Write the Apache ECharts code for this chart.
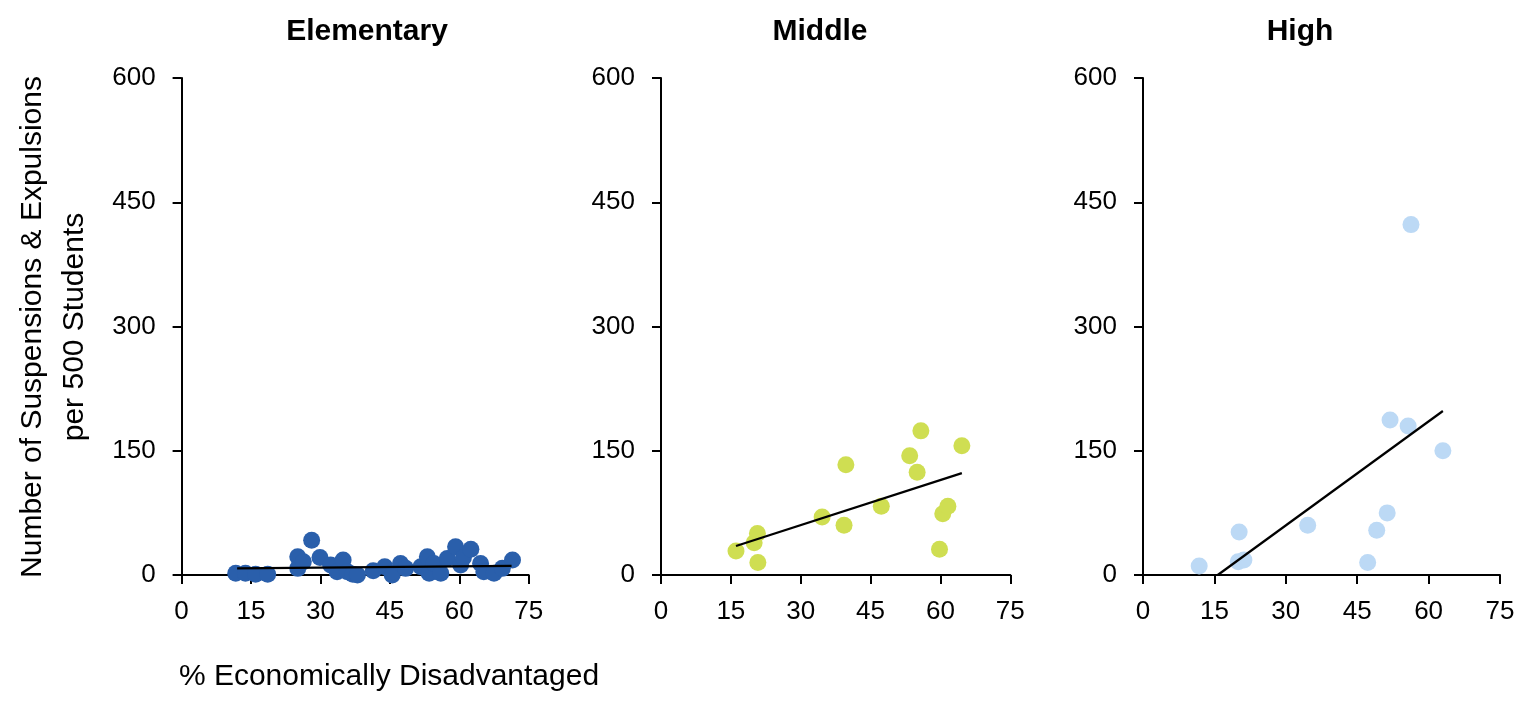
<!DOCTYPE html>
<html>
<head>
<meta charset="utf-8">
<title>Suspensions & Expulsions by Economic Disadvantage</title>
<script src="https://cdn.jsdelivr.net/npm/echarts@6/dist/echarts.min.js"></script>
<style>
  html, body { margin: 0; padding: 0; background: #ffffff; }
  #chart { width: 1524px; height: 707px; }
</style>
</head>
<body>
<div id="chart"></div>
<script>
// Panel titles and axis ticks
const panelTitles = ['Elementary', 'Middle', 'High'];
const xTicks = [0, 15, 30, 45, 60, 75];
const yTicks = [0, 150, 300, 450, 600];

// School-level points: [% economically disadvantaged, suspensions & expulsions per 500 students]
const elementaryPoints = [
  [11.7, 2], [13.8, 2], [16.0, 1], [18.6, 1],
  [25.1, 22], [25.1, 8], [26.3, 16], [28.1, 42], [29.9, 21],
  [32.2, 12], [33.6, 4], [34.9, 18], [35.8, 4], [37.0, 1], [38.0, 0],
  [41.4, 5], [43.9, 10], [45.5, 0], [47.3, 14], [48.4, 8],
  [51.7, 10], [53.1, 22], [53.5, 2], [54.5, 14], [56.0, 2], [57.4, 20],
  [59.2, 34], [60.3, 12], [60.9, 21], [62.5, 31],
  [64.6, 14], [65.3, 4], [67.5, 2], [69.3, 8], [71.5, 18]
];
const middlePoints = [
  [16.1, 29], [20.0, 39], [20.7, 50], [20.8, 15], [34.6, 70],
  [39.3, 60], [39.7, 133], [47.3, 83], [53.4, 144], [55.0, 124],
  [55.8, 174], [59.8, 31], [60.5, 74], [61.6, 83], [64.6, 156]
];
const highPoints = [
  [11.8, 11], [20.2, 52], [20.0, 16], [21.2, 18], [34.6, 60],
  [47.2, 15], [49.1, 54], [51.3, 75], [51.9, 187], [55.7, 180],
  [56.3, 423], [63.0, 150]
];

// Linear trend line end points for each panel
const elementaryTrend = [[12, 8], [71.3, 11]];
const middleTrend = [[16.1, 35], [64.6, 123]];
const highTrend = [[15.7, 0], [63.0, 198]];

const panelColors = ['#2a5fab', '#cfde52', '#bcd9f5'];
const panelPoints = [elementaryPoints, middlePoints, highPoints];
const panelTrends = [elementaryTrend, middleTrend, highTrend];

const grids = [
  { left: 181.6, top: 78, width: 347.1, height: 497 },
  { left: 661, top: 78, width: 349.3, height: 497 },
  { left: 1143, top: 78, width: 357, height: 497 }
];

const tickFont = "'Liberation Sans Narrow', 'Arial Narrow', 'Liberation Sans', Arial, sans-serif";
const textFont = "'Liberation Sans', Arial, sans-serif";

const axisLine = { show: true, onZero: false, lineStyle: { color: '#000', width: 2 } };
const axisTick = { show: true, inside: false, length: 9, lineStyle: { color: '#000', width: 2 } };

const xAxes = grids.map((g, i) => ({
  type: 'value', gridIndex: i, min: xTicks[0], max: xTicks[xTicks.length - 1], interval: 15,
  axisLine, axisTick, splitLine: { show: false },
  axisLabel: { color: '#000', fontFamily: tickFont, fontSize: 26, margin: 24 }
}));
const yAxes = grids.map((g, i) => ({
  type: 'value', gridIndex: i, min: yTicks[0], max: yTicks[yTicks.length - 1], interval: 150,
  axisLine, axisTick, splitLine: { show: false },
  axisLabel: { color: '#000', fontFamily: tickFont, fontSize: 26, margin: 26 }
}));

const series = [];
panelPoints.forEach((pts, i) => {
  series.push({
    type: 'scatter', xAxisIndex: i, yAxisIndex: i, data: pts,
    symbolSize: 17, itemStyle: { color: panelColors[i], opacity: 1 }, z: 2
  });
  series.push({
    type: 'line', xAxisIndex: i, yAxisIndex: i, data: panelTrends[i],
    showSymbol: false, symbol: 'none', lineStyle: { color: '#000', width: 2.2 }, z: 3,
    silent: true
  });
});

const titleCenters = [367, 820, 1300];
const graphics = panelTitles.map((t, i) => ({
  type: 'text', x: titleCenters[i], y: 32,
  style: { text: t, fill: '#000', font: "bold 30px " + textFont, align: 'center', verticalAlign: 'middle' }
}));
graphics.push({
  type: 'text', x: 54, y: 327, rotation: Math.PI / 2,
  style: {
    text: 'Number of Suspensions & Expulsions\nper 500 Students', fill: '#000',
    font: "30px " + textFont, align: 'center', verticalAlign: 'middle', lineHeight: 42
  }
});
graphics.push({
  type: 'text', x: 389, y: 677,
  style: { text: '% Economically Disadvantaged', fill: '#000', font: "30px " + textFont, align: 'center', verticalAlign: 'middle' }
});

const chart = echarts.init(document.getElementById('chart'), null, { renderer: 'canvas' });
chart.setOption({
  backgroundColor: '#ffffff',
  animation: false,
  grid: grids,
  xAxis: xAxes,
  yAxis: yAxes,
  series,
  graphic: graphics
});
</script>
</body>
</html>
